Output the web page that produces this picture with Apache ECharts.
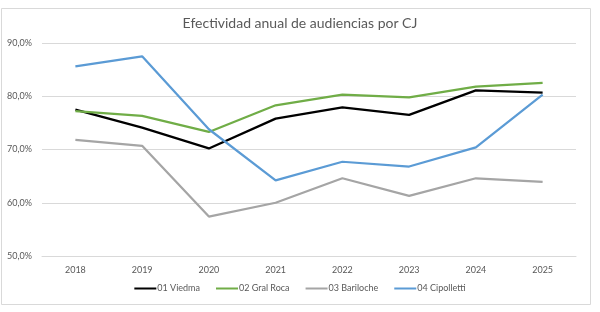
<!DOCTYPE html>
<html>
<head>
<meta charset="utf-8">
<script src="https://cdn.jsdelivr.net/npm/echarts@6/dist/echarts.min.js"></script>
<style>
  html, body { margin: 0; padding: 0; background: #fff; }
  #chart { width: 600px; height: 312px; }
</style>
</head>
<body>
<div id="chart"></div>
<script>
// años
var years = ["2018", "2019", "2020", "2021", "2022", "2023", "2024", "2025"];
// efectividad (%) por circunscripción
var viedma = [77.5, 74.1, 70.2, 75.8, 77.9, 76.5, 81.1, 80.7];
var gralRoca = [77.2, 76.3, 73.3, 78.3, 80.3, 79.8, 81.8, 82.5];
var bariloche = [71.8, 70.7, 57.4, 60.0, 64.6, 61.3, 64.6, 63.9];
var cipolletti = [85.6, 87.5, 73.8, 64.2, 67.7, 66.8, 70.4, 80.3];

var fnt = "Lato";
var gris = "#595959";

var chart = echarts.init(document.getElementById("chart"));

function serie(name, data, color) {
  return {
    name: name,
    type: "line",
    data: data,
    symbol: "none",
    lineStyle: { width: 2.25, color: color },
    itemStyle: { color: color },
  };
}

var option = {
  backgroundColor: "#fff",
  animation: false,
  textStyle: { fontFamily: fnt },
  title: {
    text: "Efectividad anual de audiencias por CJ",
    left: "center",
    top: 11,
    textStyle: { fontFamily: fnt, fontSize: 14, fontWeight: "normal", color: gris },
  },
  graphic: [
    {
      type: "rect",
      shape: { x: 1.5, y: 8.5, width: 589, height: 296 },
      style: { fill: null, stroke: "#d9d9d9", lineWidth: 1 },
      silent: true,
    },
  ],
  legend: {
    bottom: 14,
    left: "center",
    icon: "rect",
    itemWidth: 22,
    itemHeight: 2,
    itemGap: 16,
    textStyle: { fontFamily: fnt, fontSize: 9, color: gris, padding: [0, 0, 0, -4] },
    data: ["01 Viedma", "02 Gral Roca", "03 Bariloche", "04 Cipolletti"],
  },
  grid: { left: 42, right: 24, top: 43, bottom: 56 },
  xAxis: {
    type: "category",
    data: years,
    boundaryGap: true,
    axisLine: { show: true, lineStyle: { color: "#d9d9d9", width: 1 } },
    axisTick: { show: false },
    axisLabel: { color: gris, fontSize: 9, fontFamily: fnt, margin: 10 },
  },
  yAxis: {
    type: "value",
    min: 50,
    max: 90,
    interval: 10,
    axisLine: { show: false },
    axisTick: { show: false },
    splitLine: { lineStyle: { color: "#d9d9d9", width: 1 } },
    axisLabel: {
      color: gris,
      fontSize: 9,
      fontFamily: fnt,
      margin: 10,
      formatter: function (v) { return v.toFixed(1).replace(".", ",") + "%"; },
    },
  },
  series: [
    serie("01 Viedma", viedma, "#000000"),
    serie("02 Gral Roca", gralRoca, "#70ad47"),
    serie("03 Bariloche", bariloche, "#a5a5a5"),
    serie("04 Cipolletti", cipolletti, "#5b9bd5"),
  ],
};

chart.setOption(option);
</script>
</body>
</html>
